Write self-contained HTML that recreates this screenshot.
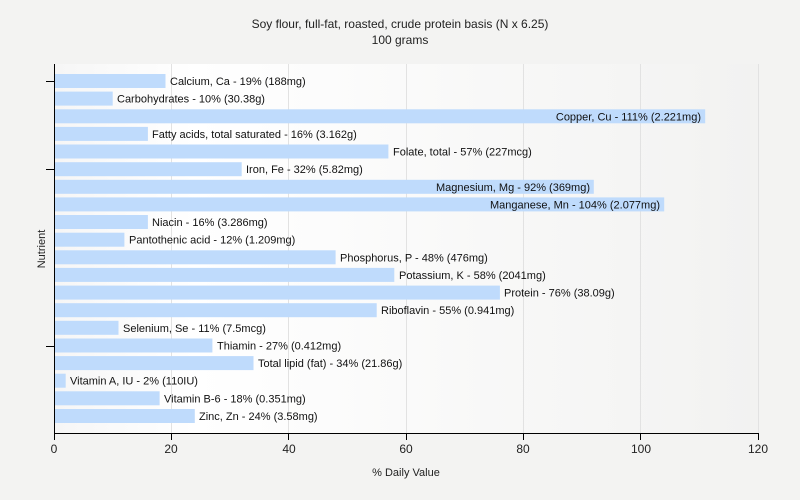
<!DOCTYPE html>
<html><head><meta charset="utf-8"><style>body{margin:0;background:#f3f3f2}svg{display:block;font-family:"Liberation Sans",sans-serif}</style></head>
<body>
<svg width="800" height="500" xmlns="http://www.w3.org/2000/svg">
<defs><linearGradient id="g" x1="0" x2="1" y1="0" y2="0"><stop offset="0" stop-color="#f6f6f6"/><stop offset="0.2" stop-color="#ffffff"/><stop offset="1" stop-color="#f2f2f1"/></linearGradient></defs>
<rect width="800" height="500" fill="#f3f3f2"/>
<rect x="54" y="64" width="704" height="370" fill="url(#g)"/>
<g stroke="#e2e2e2" stroke-width="1">
<line x1="171.5" y1="64" x2="171.5" y2="434"/><line x1="288.5" y1="64" x2="288.5" y2="434"/><line x1="406.5" y1="64" x2="406.5" y2="434"/><line x1="523.5" y1="64" x2="523.5" y2="434"/><line x1="640.5" y1="64" x2="640.5" y2="434"/><line x1="758.5" y1="64" x2="758.5" y2="434"/>
</g>
<text x="400" y="28" font-size="12" text-anchor="middle" fill="#222">Soy flour, full-fat, roasted, crude protein basis (N x 6.25)</text>
<text x="400" y="44" font-size="12" text-anchor="middle" fill="#222">100 grams</text>
<g fill="#bfdbfc">
<rect x="55" y="74" width="110.5" height="14"/>
<rect x="55" y="91.6" width="57.7" height="14"/>
<rect x="55" y="109.3" width="650.2" height="14"/>
<rect x="55" y="126.9" width="92.9" height="14"/>
<rect x="55" y="144.5" width="333.4" height="14"/>
<rect x="55" y="162.2" width="186.7" height="14"/>
<rect x="55" y="179.8" width="538.8" height="14"/>
<rect x="55" y="197.4" width="609.2" height="14"/>
<rect x="55" y="215" width="92.9" height="14"/>
<rect x="55" y="232.7" width="69.4" height="14"/>
<rect x="55" y="250.3" width="280.6" height="14"/>
<rect x="55" y="267.9" width="339.3" height="14"/>
<rect x="55" y="285.6" width="444.9" height="14"/>
<rect x="55" y="303.2" width="321.7" height="14"/>
<rect x="55" y="320.8" width="63.5" height="14"/>
<rect x="55" y="338.5" width="157.4" height="14"/>
<rect x="55" y="356.1" width="198.5" height="14"/>
<rect x="55" y="373.7" width="10.7" height="14"/>
<rect x="55" y="391.3" width="104.6" height="14"/>
<rect x="55" y="409" width="139.8" height="14"/>
</g>
<g font-size="11" fill="#111">
<text x="170" y="85">Calcium, Ca - 19% (188mg)</text>
<text x="117" y="102.6">Carbohydrates - 10% (30.38g)</text>
<text x="701" y="120.3" text-anchor="end">Copper, Cu - 111% (2.221mg)</text>
<text x="152" y="137.9">Fatty acids, total saturated - 16% (3.162g)</text>
<text x="393" y="155.5">Folate, total - 57% (227mcg)</text>
<text x="246" y="173.2">Iron, Fe - 32% (5.82mg)</text>
<text x="590" y="190.8" text-anchor="end">Magnesium, Mg - 92% (369mg)</text>
<text x="660" y="208.4" text-anchor="end">Manganese, Mn - 104% (2.077mg)</text>
<text x="152" y="226">Niacin - 16% (3.286mg)</text>
<text x="129" y="243.7">Pantothenic acid - 12% (1.209mg)</text>
<text x="340" y="261.3">Phosphorus, P - 48% (476mg)</text>
<text x="399" y="278.9">Potassium, K - 58% (2041mg)</text>
<text x="504" y="296.6">Protein - 76% (38.09g)</text>
<text x="381" y="314.2">Riboflavin - 55% (0.941mg)</text>
<text x="123" y="331.8">Selenium, Se - 11% (7.5mcg)</text>
<text x="217" y="349.5">Thiamin - 27% (0.412mg)</text>
<text x="258" y="367.1">Total lipid (fat) - 34% (21.86g)</text>
<text x="70" y="384.7">Vitamin A, IU - 2% (110IU)</text>
<text x="164" y="402.3">Vitamin B-6 - 18% (0.351mg)</text>
<text x="199" y="420">Zinc, Zn - 24% (3.58mg)</text>
</g>
<g stroke="#000" stroke-width="1">
<line x1="54.5" y1="64" x2="54.5" y2="434"/>
<line x1="54" y1="433.5" x2="759" y2="433.5"/>
<line x1="46" y1="81.5" x2="54" y2="81.5"/><line x1="46" y1="169.5" x2="54" y2="169.5"/><line x1="46" y1="346.5" x2="54" y2="346.5"/>
<line x1="54.5" y1="434" x2="54.5" y2="440"/><line x1="171.5" y1="434" x2="171.5" y2="440"/><line x1="288.5" y1="434" x2="288.5" y2="440"/><line x1="406.5" y1="434" x2="406.5" y2="440"/><line x1="523.5" y1="434" x2="523.5" y2="440"/><line x1="640.5" y1="434" x2="640.5" y2="440"/><line x1="758.5" y1="434" x2="758.5" y2="440"/>
</g>
<g font-size="12" fill="#222" text-anchor="middle">
<text x="54" y="453">0</text><text x="171" y="453">20</text><text x="289" y="453">40</text><text x="406" y="453">60</text><text x="523" y="453">80</text><text x="641" y="453">100</text><text x="758" y="453">120</text>
</g>
<text x="406" y="476" font-size="11" text-anchor="middle" fill="#222">% Daily Value</text>
<text x="0" y="0" font-size="11" text-anchor="middle" fill="#222" transform="translate(45,249) rotate(-90)">Nutrient</text>
</svg>
</body></html>
